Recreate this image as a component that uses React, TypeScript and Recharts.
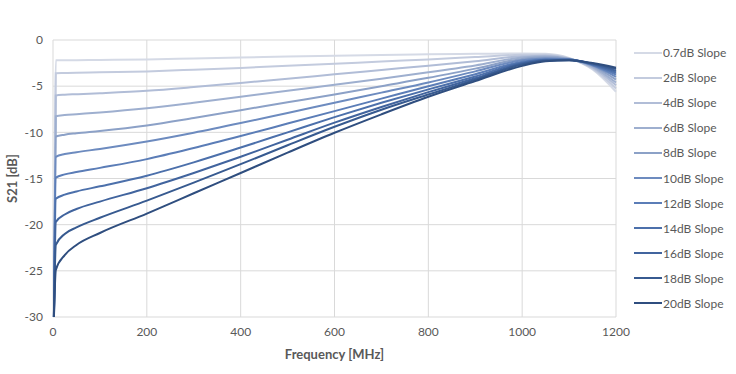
import { CartesianGrid, Line, LineChart, XAxis, YAxis } from "recharts";

const FONT = "Lato, 'Open Sans', sans-serif";
const TEXT = "#595959";

// frequency points (MHz)
const freqs = [2, 6, 25, 50, 100, 200, 300, 400, 500, 600, 700, 800, 900, 1000, 1050, 1100, 1150, 1200];

// S21 in dB per slope setting
const slope07 = [-30, -2.2, -2.2, -2.18, -2.16, -2.1, -2.0, -1.9, -1.8, -1.7, -1.62, -1.55, -1.5, -1.45, -1.5, -1.95, -3.2, -5.6];
const slope2 = [-30, -3.6, -3.58, -3.55, -3.5, -3.4, -3.22, -3.02, -2.8, -2.57, -2.33, -2.1, -1.85, -1.6, -1.6, -2.0, -3.1, -5.25];
const slope4 = [-30, -6.0, -5.92, -5.87, -5.76, -5.5, -5.1, -4.65, -4.2, -3.72, -3.25, -2.78, -2.3, -1.75, -1.7, -2.0, -3.0, -4.9];
const slope6 = [-30, -8.25, -8.12, -8.03, -7.85, -7.4, -6.8, -6.15, -5.5, -4.85, -4.2, -3.5, -2.75, -1.9, -1.8, -2.05, -2.9, -4.6];
const slope8 = [-30, -10.45, -10.25, -10.1, -9.85, -9.25, -8.45, -7.6, -6.75, -5.9, -5.0, -4.1, -3.1, -2.05, -1.9, -2.05, -2.8, -4.3];
const slope10 = [-30, -12.65, -12.35, -12.15, -11.8, -11.0, -10.05, -9.0, -7.9, -6.8, -5.7, -4.6, -3.4, -2.2, -2.0, -2.1, -2.75, -4.0];
const slope12 = [-30, -14.9, -14.55, -14.3, -13.85, -12.9, -11.7, -10.4, -9.05, -7.7, -6.35, -5.0, -3.7, -2.35, -2.1, -2.1, -2.7, -3.75];
const slope14 = [-30, -17.2, -16.75, -16.4, -15.85, -14.7, -13.25, -11.65, -10.0, -8.35, -6.8, -5.35, -3.95, -2.45, -2.15, -2.15, -2.65, -3.55];
const slope16 = [-30, -19.7, -18.9, -18.3, -17.5, -16.05, -14.4, -12.65, -10.8, -8.95, -7.25, -5.65, -4.15, -2.55, -2.2, -2.15, -2.6, -3.35];
const slope18 = [-30, -22.2, -21.0, -20.3, -19.25, -17.4, -15.45, -13.45, -11.4, -9.4, -7.55, -5.9, -4.3, -2.65, -2.25, -2.2, -2.55, -3.15];
const slope20 = [-30, -24.9, -23.3, -22.2, -20.9, -18.8, -16.6, -14.4, -12.2, -10.05, -8.05, -6.15, -4.45, -2.8, -2.3, -2.2, -2.5, -3.0];

const seriesNames = [
  "0.7dB Slope", "2dB Slope", "4dB Slope", "6dB Slope", "8dB Slope", "10dB Slope",
  "12dB Slope", "14dB Slope", "16dB Slope", "18dB Slope", "20dB Slope",
];
const seriesValues = [slope07, slope2, slope4, slope6, slope8, slope10, slope12, slope14, slope16, slope18, slope20];
const seriesColors = [
  "#d5dae6", "#c3cbde", "#b1bdd7", "#9eafcf", "#8ca1c7", "#6d8bbf",
  "#5b7db7", "#4c70ab", "#41649e", "#375a90", "#2f4e7f",
];

const xTicks = [0, 200, 400, 600, 800, 1000, 1200];
const yTicks = [0, -5, -10, -15, -20, -25, -30];

const data = freqs.map((f, i) => {
  const row: Record<string, number> = { f };
  seriesValues.forEach((vals, s) => {
    row[`s${s}`] = vals[i];
  });
  return row;
});

// legend sits to the right of the plot, like the Excel original
function SlopeLegend() {
  return (
    <div
      style={{
        position: "absolute",
        left: 634,
        top: 40,
        fontFamily: FONT,
        fontSize: 12,
        color: TEXT,
      }}
    >
      {seriesNames.map((name, i) => (
        <div key={name} style={{ height: 25.1, display: "flex", alignItems: "center" }}>
          <span style={{ width: 28, height: 2, background: seriesColors[i], marginRight: 1 }} />
          <span>{name}</span>
        </div>
      ))}
    </div>
  );
}

export default function App() {
  return (
    <div style={{ position: "absolute", left: 0, top: 0, width: 736, height: 374, background: "#fff" }}>
      <LineChart width={736} height={374} data={data} margin={{ top: 40, right: 120, bottom: 12, left: 0 }}>
        <CartesianGrid stroke="#d9d9d9" strokeWidth={1} />
        <XAxis
          dataKey="f"
          type="number"
          domain={[0, 1200]}
          ticks={xTicks}
          tick={{ fontSize: 12, fill: TEXT, fontFamily: FONT }}
          tickLine={false}
          axisLine={false}
          tickMargin={4}
          height={45}
          label={{
            value: "Frequency [MHz]",
            position: "insideBottom",
            offset: 3,
            style: { fontSize: 13, fontWeight: 700, fill: TEXT, fontFamily: FONT },
          }}
        />
        <YAxis
          type="number"
          domain={[-30, 0]}
          ticks={yTicks}
          allowDataOverflow
          tick={{ fontSize: 12, fill: TEXT, fontFamily: FONT }}
          tickLine={false}
          axisLine={false}
          tickMargin={4}
          width={53}
          label={{
            value: "S21 [dB]",
            angle: -90,
            position: "insideLeft",
            offset: 12,
            style: { fontSize: 13, fontWeight: 700, fill: TEXT, fontFamily: FONT, textAnchor: "middle" },
          }}
        />
        {seriesNames.map((name, s) => (
          <Line
            key={name}
            name={name}
            type="monotone"
            dataKey={`s${s}`}
            stroke={seriesColors[s]}
            strokeWidth={2}
            dot={false}
            isAnimationActive={false}
          />
        ))}
      </LineChart>
      <SlopeLegend />
    </div>
  );
}
